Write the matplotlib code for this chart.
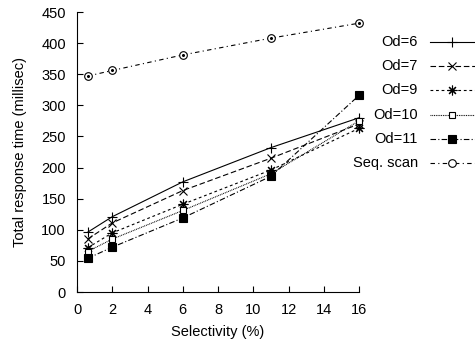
import matplotlib as mpl
mpl.use('Agg')

import matplotlib.pyplot as plt
from matplotlib.lines import Line2D

plt.rcParams['font.family'] = ['Liberation Sans', 'DejaVu Sans']

# DATI
selettivita = [0.6, 2, 6, 11, 16]
od6 = [96, 121, 177, 232, 280]
od7 = [85, 111, 163, 215, 270]
od9 = [71, 95, 141, 196, 263]
od10 = [65, 85, 131, 190, 275]
od11 = [54, 72, 119, 186, 316]
seqScan = [347, 356, 381, 408, 432]

etichette = ['Od=6', 'Od=7', 'Od=9', 'Od=10', 'Od=11', 'Seq. scan']
serie = [od6, od7, od9, od10, od11, seqScan]

# stili: linea, marker, riempimento, dimensione
stili = [
    ('-', '+', 'none', 7),
    ((0, (5, 2.5)), 'x', 'none', 6),
    ((0, (2.5, 2.5)), (8, 2, 0), 'none', 7),
    ((0, (0.8, 0.8)), 's', 'white', 5),
    ((0, (5, 2, 1, 2)), 's', 'black', 5.5),
    ((0, (4, 3, 1, 3)), 'o', 'white', 5.5),
]

fig = plt.figure(figsize=(4.75, 3.47), dpi=100)
ax = fig.add_axes([77 / 475, 1 - 292 / 347, (359 - 77) / 475, (292 - 12) / 347])

for valori, (ls, mk, fc, ms) in zip(serie, stili):
    ax.plot(selettivita, valori, linestyle=ls, marker=mk, color='black',
            markerfacecolor=fc, markeredgecolor='black', markersize=ms,
            linewidth=0.8, markeredgewidth=0.8, clip_on=False)
# puntino al centro dei cerchi (come gnuplot)
ax.plot(selettivita, seqScan, linestyle='none', marker='o', color='black',
        markersize=1.2, clip_on=False)

ax.set_xlim(0, 16)
ax.set_ylim(0, 450)
ax.set_xticks(range(0, 17, 2))
ax.set_yticks(range(0, 451, 50))
ax.spines['top'].set_visible(False)
ax.spines['right'].set_visible(False)
ax.tick_params(direction='in', length=4, width=0.8, labelsize=10.5)
ax.tick_params(axis='y', pad=8)
ax.tick_params(axis='x', pad=8)
ax.set_xlabel('Selectivity (%)', fontsize=10.5, labelpad=6)
ax.set_ylabel('Total response time (millisec)', fontsize=10.5, labelpad=10)

# LEGENDA fuori dal grafico, testo allineato a destra come gnuplot
for i, (lab, (ls, mk, fc, ms)) in enumerate(zip(etichette, stili)):
    y = 1 - (42 + i * 24.2) / 347
    fig.text(418 / 475, y, lab, ha='right', va='center', fontsize=10.5)
    fig.add_artist(Line2D([430 / 475, 475 / 475], [y, y], linestyle=ls, color='black',
                          linewidth=0.8, transform=fig.transFigure))
    fig.add_artist(Line2D([452 / 475], [y], linestyle='none', marker=mk, color='black',
                          markerfacecolor=fc, markeredgecolor='black', markersize=ms,
                          markeredgewidth=0.8, transform=fig.transFigure))

fig.savefig('out.png', dpi=100)
